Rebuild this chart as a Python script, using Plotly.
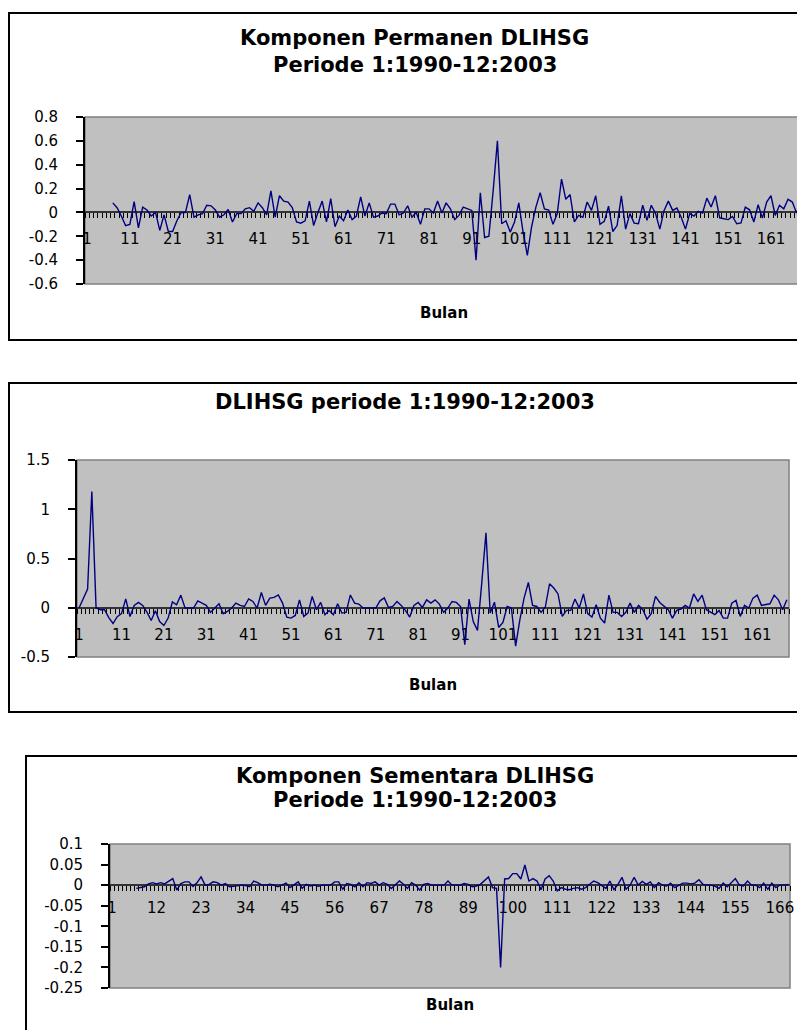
import plotly.graph_objects as go

# window is 805x1030; the page body has an 8px margin, so the figure starts at (8, 8)
OFF = 8
W, H = 805 - OFF, 1030 - OFF
FONT = "DejaVu Sans, Liberation Sans, Arial, sans-serif"

months = list(range(1, 169))

# Komponen Permanen DLIHSG, months 7..168
permanen_vals = [
    0.08, 0.04, -0.03, -0.11, -0.10, 0.09, -0.13, 0.045, 0.02, -0.03,
    0.0, -0.15, -0.02, -0.16, -0.16, -0.07, 0.0, 0.0, 0.15, -0.04,
    -0.02, -0.01, 0.06, 0.055, 0.02, -0.04, -0.02, 0.025, -0.08, -0.01,
    -0.01, 0.03, 0.04, 0.01, 0.08, 0.04, -0.02, 0.18, -0.04, 0.14,
    0.095, 0.087, 0.04, -0.08, -0.09, -0.07, 0.095, -0.11, 0.0, 0.095,
    -0.08, 0.115, -0.12, -0.03, -0.07, 0.02, -0.06, -0.03, 0.13, -0.03,
    0.08, -0.04, -0.03, -0.005, -0.01, 0.07, 0.07, -0.02, -0.005, 0.055,
    -0.04, 0.0, -0.1, 0.03, 0.03, -0.005, 0.095, -0.005, 0.08, 0.03,
    -0.06, -0.025, 0.045, 0.03, 0.017, -0.40, 0.165, -0.21, -0.20, 0.18,
    0.60, -0.095, -0.07, -0.165, -0.08, 0.08, -0.165, -0.36, -0.12, 0.045,
    0.165, 0.03, 0.02, -0.10, -0.01, 0.28, 0.11, 0.15, -0.08, -0.025,
    -0.04, 0.087, 0.017, 0.14, -0.10, -0.075, 0.053, -0.16, -0.11, 0.14,
    -0.14, -0.01, -0.09, -0.095, 0.06, -0.067, 0.06, -0.01, -0.14, 0.017,
    0.095, 0.017, 0.037, -0.04, -0.14, -0.01, -0.03, 0.01, -0.005, 0.12,
    0.045, 0.14, -0.045, -0.053, -0.06, -0.034, -0.095, -0.087, 0.045, 0.022,
    -0.08, 0.065, -0.048, 0.087, 0.14, -0.025, 0.06, 0.03, 0.11, 0.087,
    -0.005, 0.105,
]
permanen = [None] * 6 + permanen_vals

# DLIHSG, months 1..168
dlihsg = [
    0.0, 0.1, 0.19, 1.18, 0.0, -0.02, -0.02, -0.10, -0.16, -0.09,
    -0.06, 0.09, -0.09, 0.024, 0.054, 0.024, -0.044, -0.13, -0.03, -0.14,
    -0.18, -0.105, 0.06, 0.03, 0.128, -0.003, -0.003, -0.003, 0.07, 0.047,
    0.024, -0.047, -0.003, 0.04, -0.06, -0.037, -0.003, 0.047, 0.024, 0.013,
    0.09, 0.064, -0.003, 0.155, 0.024, 0.098, 0.105, 0.13, 0.047, -0.095,
    -0.105, -0.078, 0.08, -0.088, -0.054, 0.115, -0.02, 0.054, -0.07, -0.027,
    -0.07, 0.04, -0.054, -0.047, 0.13, 0.047, 0.037, -0.003, -0.003, -0.003,
    -0.003, 0.07, 0.1, 0.003, 0.013, 0.064, 0.024, -0.027, -0.095, 0.024,
    0.054, 0.003, 0.08, 0.047, 0.08, 0.037, -0.047, -0.003, 0.064, 0.054,
    0.013, -0.375, 0.088, -0.14, -0.23, 0.25, 0.76, -0.054, 0.057, -0.2,
    -0.15, 0.013, -0.003, -0.39, -0.12, 0.1, 0.257, 0.024, 0.013, -0.047,
    0.007, 0.243, 0.2, 0.14, -0.088, -0.027, -0.027, 0.088, -0.003, 0.14,
    -0.06, -0.095, 0.03, -0.105, -0.155, 0.128, -0.047, -0.047, -0.088, -0.047,
    0.047, -0.047, 0.024, -0.02, -0.115, -0.06, 0.115, 0.054, 0.013, -0.02,
    -0.105, -0.027, -0.013, 0.024, -0.003, 0.14, 0.064, 0.128, -0.02, -0.044,
    -0.07, -0.027, -0.105, -0.105, 0.047, 0.074, -0.088, 0.024, -0.003, 0.098,
    0.128, 0.024, 0.03, 0.04, 0.128, 0.081, -0.02, 0.081,
]

# Komponen Sementara DLIHSG, months 7..168
sementara_vals = [
    -0.008, -0.006, -0.004, 0.003, 0.006, 0.003, 0.006, 0.003, 0.01, 0.016,
    -0.012, 0.004, 0.008, 0.008, -0.003, 0.006, 0.02, 0.0, 0.002, 0.008,
    0.006, 0.0, 0.004, -0.004, -0.003, -0.002, 0.0, -0.001, -0.004, 0.01,
    0.006, 0.0, 0.0, 0.002, 0.0, -0.004, 0.0, 0.005, -0.006, 0.0,
    0.008, -0.008, 0.002, -0.002, 0.0, -0.003, 0.0, 0.0, 0.0, 0.008,
    0.008, -0.01, 0.004, 0.002, -0.004, 0.006, -0.004, 0.006, 0.004, 0.008,
    0.0, 0.006, 0.002, -0.008, 0.002, 0.01, 0.002, -0.008, 0.006, 0.0,
    -0.012, 0.002, 0.004, 0.0, 0.0, 0.0, 0.0, 0.01, 0.0, 0.0,
    0.0, 0.004, 0.002, -0.004, -0.002, 0.002, 0.01, 0.02, -0.006, -0.008,
    -0.2, 0.015, 0.016, 0.028, 0.028, 0.015, 0.049, 0.01, 0.016, 0.01,
    -0.011, 0.015, 0.023, 0.01, -0.014, -0.006, -0.01, -0.011, -0.008, -0.006,
    -0.01, -0.006, 0.002, 0.01, 0.006, -0.002, -0.008, 0.01, -0.011, 0.002,
    0.019, -0.01, 0.0, 0.019, 0.0, 0.009, 0.002, 0.008, -0.006, 0.006,
    0.0, -0.002, 0.005, -0.006, 0.0, 0.005, 0.005, 0.003, 0.005, 0.013,
    0.002, 0.0, 0.0, -0.003, -0.008, 0.005, -0.004, 0.005, 0.016, 0.0,
    -0.002, 0.01, 0.0, 0.0, -0.006, 0.005, -0.01, 0.005, -0.006, 0.0,
    0.0, 0.002,
]
sementara = [None] * 6 + sementara_vals

# tick labels
x_ticks_10 = list(range(1, 169, 10))
x_ticks_11 = list(range(1, 169, 11))
y_ticks_1 = [-0.6, -0.4, -0.2, 0, 0.2, 0.4, 0.6, 0.8]
y_text_1 = ["-0.6", "-0.4", "-0.2", "0", "0.2", "0.4", "0.6", "0.8"]
y_ticks_2 = [-0.5, 0, 0.5, 1, 1.5]
y_text_2 = ["-0.5", "0", "0.5", "1", "1.5"]
y_ticks_3 = [-0.25, -0.2, -0.15, -0.1, -0.05, 0, 0.05, 0.1]
y_text_3 = ["-0.25", "-0.2", "-0.15", "-0.1", "-0.05", "0", "0.05", "0.1"]

titles_1 = ["Komponen Permanen DLIHSG", "Periode 1:1990-12:2003"]
titles_2 = ["DLIHSG periode 1:1990-12:2003"]
titles_3 = ["Komponen Sementara DLIHSG", "Periode 1:1990-12:2003"]
x_title = "Bulan"


def px(x):
    return (x - OFF) / W


def py(y):
    return 1 - (y - OFF) / H


panels = [
    dict(series=permanen, plot=(85, 803, 117, 284), yr=(-0.6, 0.8), yt=y_ticks_1, ytt=y_text_1,
         xt=x_ticks_10, box=(9, 822, 13, 340), titles=titles_1, title_y=[38, 65], title_x=415,
         xlab_y=313, xstand=13),
    dict(series=dlihsg, plot=(77, 789, 460, 657), yr=(-0.5, 1.5), yt=y_ticks_2, ytt=y_text_2,
         xt=x_ticks_10, box=(9, 802, 383, 712), titles=titles_2, title_y=[402], title_x=405,
         xlab_y=685, xstand=13),
    dict(series=sementara, plot=(110, 790, 844, 988), yr=(-0.25, 0.1), yt=y_ticks_3, ytt=y_text_3,
         xt=x_ticks_11, box=(26, 803, 756, 1040), titles=titles_3, title_y=[776, 800], title_x=415,
         xlab_y=1005, xstand=9),
]

fig = go.Figure()
shapes = []
annotations = []
layout = {}

for i, p in enumerate(panels, start=1):
    sfx = "" if i == 1 else str(i)
    x0, x1, y0, y1 = p["plot"]
    xd = [px(x0), px(x1)]
    yd = [py(y1), py(y0)]
    ymin, ymax = p["yr"]
    zero_pos = yd[0] + (0 - ymin) / (ymax - ymin) * (yd[1] - yd[0])

    fig.add_trace(go.Scatter(
        x=months, y=p["series"], mode="lines",
        line=dict(color="#000080", width=1.4),
        xaxis="x" + sfx, yaxis="y" + sfx, showlegend=False, hoverinfo="skip",
        connectgaps=False,
    ))

    layout["xaxis" + sfx] = dict(
        domain=xd, range=[0.5, 168.5], anchor="free", position=zero_pos,
        showline=True, linecolor="#333333", linewidth=2,
        tickmode="array", tickvals=p["xt"], ticktext=[str(v) for v in p["xt"]],
        ticks="outside", ticklen=5, tickcolor="rgba(0,0,0,0)",
        ticklabelstandoff=p["xstand"] - 5,
        tickfont=dict(family=FONT, size=15, color="black"),
        showgrid=False, zeroline=False, fixedrange=True, automargin=False,
        layer="below traces",
        minor=dict(tickmode="linear", tick0=0.5, dtick=1, ticks="outside", ticklen=5,
                   tickcolor="black", tickwidth=1, showgrid=False),
    )
    layout["yaxis" + sfx] = dict(
        domain=yd, range=[ymin, ymax], anchor="x" + sfx,
        showline=True, linecolor="black", linewidth=2,
        tickmode="array", tickvals=p["yt"], ticktext=p["ytt"],
        ticks="outside", ticklen=7, tickwidth=1.5, tickcolor="black",
        ticklabelstandoff=15,
        tickfont=dict(family=FONT, size=15, color="black"),
        showgrid=False, zeroline=False, fixedrange=True, automargin=False,
    )

    # gray plot area
    shapes.append(dict(type="rect", xref="x" + sfx + " domain", yref="y" + sfx + " domain",
                       x0=0, x1=1, y0=0, y1=1, fillcolor="#c0c0c0",
                       line=dict(color="#808080", width=1.5), layer="below"))
    # chart outer frame
    bx0, bx1, by0, by1 = p["box"]
    shapes.append(dict(type="rect", xref="paper", yref="paper",
                       x0=px(bx0), x1=px(bx1), y0=py(by1), y1=py(by0),
                       line=dict(color="black", width=2), fillcolor="rgba(0,0,0,0)", layer="above"))
    for t, ty in zip(p["titles"], p["title_y"]):
        annotations.append(dict(text="<b>" + t + "</b>", xref="paper", yref="paper",
                                x=px(p["title_x"]), y=py(ty), xanchor="center", yanchor="middle",
                                showarrow=False, font=dict(family=FONT, size=21, color="black")))
    annotations.append(dict(text="<b>" + x_title + "</b>", xref="paper", yref="paper",
                            x=px((x0 + x1) / 2), y=py(p["xlab_y"]), xanchor="center", yanchor="middle",
                            showarrow=False, font=dict(family=FONT, size=15, color="black")))

fig.update_layout(
    width=W, height=H,
    margin=dict(l=0, r=0, t=0, b=0, autoexpand=False),
    paper_bgcolor="white", plot_bgcolor="#c0c0c0",
    shapes=shapes, annotations=annotations, showlegend=False,
    **layout,
)

fig.write_html("out.html")
